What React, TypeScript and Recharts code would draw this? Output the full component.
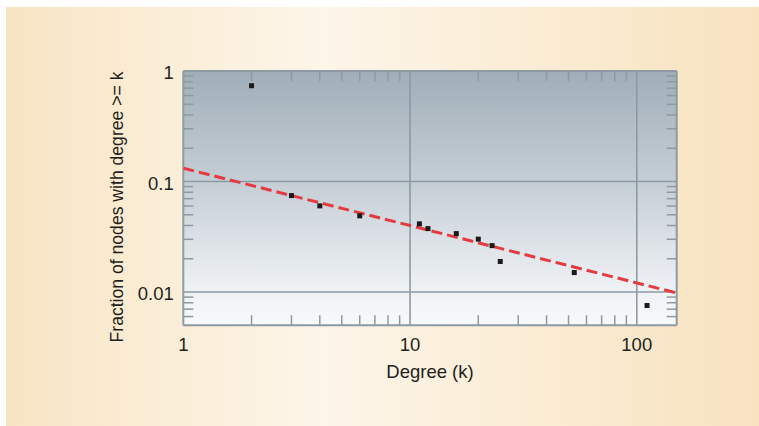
import React from 'react';
import { ScatterChart, Scatter, XAxis, YAxis, CartesianGrid, ReferenceLine } from 'recharts';

// ---- data ----
const degrees = [2, 3, 4, 6, 11, 12, 16, 20, 23, 25, 53, 111];
const fractions = [0.736, 0.0746, 0.0602, 0.0489, 0.0414, 0.0375, 0.0338, 0.0301, 0.0263, 0.0189, 0.015, 0.00755];
const fitX = [1, 150];
const fitY = [0.132, 0.0098];

const xMajorTicks = [1, 10, 100];
const xMinorTicks = [2, 3, 4, 5, 6, 7, 8, 9, 20, 30, 40, 50, 60, 70, 80, 90];
const yMajorTicks = [0.01, 0.1, 1];
const yMinorTicks = [0.006, 0.007, 0.008, 0.009, 0.02, 0.03, 0.04, 0.05, 0.06, 0.07, 0.08, 0.09, 0.2, 0.3, 0.4, 0.5, 0.6, 0.7, 0.8, 0.9];
const xGridValues = [10, 100];
const yGridValues = [0.1, 0.01];

const xDomain = [1, 150];
const yDomain = [0.005, 1];

const points = degrees.map((d, i) => ({ k: d, f: fractions[i] }));
const fitLine = fitX.map((x, i) => ({ k: x, f: fitY[i] }));

const FONT = '"Liberation Sans", Arial, sans-serif';
const TEXT = '#231f20';
const AXIS = '#8d9aa3';
const TICK_LEN = 10;

const allXTicks = [...xMajorTicks, ...xMinorTicks];
const allYTicks = [...yMajorTicks, ...yMinorTicks];

const BottomTick = (props: any) => {
  const { x, y, payload } = props;
  const v = payload.value;
  if (xMajorTicks.includes(v)) {
    return (
      <text x={x} y={y + 25.4} textAnchor="middle" fontFamily={FONT} fontSize={18.5} fill={TEXT}>
        {String(v)}
      </text>
    );
  }
  return <line x1={x} x2={x} y1={y} y2={y - TICK_LEN} stroke={AXIS} strokeWidth={1.5} />;
};

const TopTick = (props: any) => {
  const { x, y, payload } = props;
  if (xMajorTicks.includes(payload.value)) return <g />;
  return <line x1={x} x2={x} y1={y} y2={y + TICK_LEN} stroke={AXIS} strokeWidth={1.5} />;
};

const LeftTick = (props: any) => {
  const { x, y, payload } = props;
  const v = payload.value;
  if (yMajorTicks.includes(v)) {
    return (
      <text x={x - 9.5} y={y + 8.3} textAnchor="end" fontFamily={FONT} fontSize={18.5} fill={TEXT}>
        {String(v)}
      </text>
    );
  }
  return <line x1={x} x2={x + TICK_LEN} y1={y} y2={y} stroke={AXIS} strokeWidth={1.5} />;
};

const RightTick = (props: any) => {
  const { x, y, payload } = props;
  if (yMajorTicks.includes(payload.value)) return <g />;
  return <line x1={x} x2={x - TICK_LEN} y1={y} y2={y} stroke={AXIS} strokeWidth={1.5} />;
};

const SquareMarker = (props: any) => {
  const { cx, cy } = props;
  if (cx == null || cy == null) return <g />;
  return <rect x={cx - 2.5} y={cy - 2.5} width={5} height={5} fill="#1b1b1b" />;
};

const NoMarker = () => <g />;

const XTitle = () => (
  <text x={430} y={377.5} textAnchor="middle" fontFamily={FONT} fontSize={18.5} fill={TEXT}>
    Degree (k)
  </text>
);

const YTitle = () => (
  <text
    x={123}
    y={207}
    transform="rotate(-90 123 207)"
    textAnchor="middle"
    fontFamily={FONT}
    fontSize={17.6}
    fill={TEXT}
  >
    Fraction of nodes with degree &gt;= k
  </text>
);

export default function App() {
  return (
    <div style={{ position: 'absolute', left: 0, top: 0, width: 759, height: 426, background: '#ffffff', overflow: 'hidden' }}>
      <div
        style={{
          position: 'absolute',
          left: 6,
          top: 7,
          right: 0,
          bottom: 0,
          background: 'linear-gradient(to right, #f8e4c3 0%, #fbefda 25%, #fdf5e9 42%, #fbeed8 65%, #f9e7c9 85%, #f8e3c1 100%)',
        }}
      />
      <div style={{ position: 'absolute', left: 0, top: 0 }}>
        <ScatterChart width={759} height={426} margin={{ top: 61, right: 72.3, bottom: 40.7, left: 123.3 }}>
          <defs>
            <linearGradient id="plotBg" x1="0" y1="0" x2="0" y2="1">
              <stop offset="0%" stopColor="#a1aeb8" />
              <stop offset="45%" stopColor="#c6cfd6" />
              <stop offset="85%" stopColor="#eef1f4" />
              <stop offset="100%" stopColor="#f8f9fb" />
            </linearGradient>
          </defs>
          <CartesianGrid
            xAxisId="b"
            yAxisId="l"
            horizontal={false}
            vertical={false}
            fill="url(#plotBg)"
            fillOpacity={1}
            stroke="none"
          />
          <XAxis
            xAxisId="b"
            dataKey="k"
            type="number"
            scale="log"
            domain={xDomain}
            allowDataOverflow
            ticks={allXTicks}
            interval={0}
            tickSize={0}
            tickMargin={0}
            tickLine={false}
            tick={<BottomTick />}
            axisLine={{ stroke: AXIS, strokeWidth: 2 }}
            height={60}
            label={<XTitle />}
          />
          <XAxis
            xAxisId="t"
            dataKey="k"
            orientation="top"
            type="number"
            scale="log"
            domain={xDomain}
            allowDataOverflow
            ticks={allXTicks}
            interval={0}
            tickSize={0}
            tickMargin={0}
            tickLine={false}
            tick={<TopTick />}
            axisLine={{ stroke: AXIS, strokeWidth: 2 }}
            height={10}
          />
          <YAxis
            yAxisId="l"
            dataKey="f"
            type="number"
            scale="log"
            domain={yDomain}
            allowDataOverflow
            ticks={allYTicks}
            interval={0}
            tickSize={0}
            tickMargin={0}
            tickLine={false}
            tick={<LeftTick />}
            axisLine={{ stroke: AXIS, strokeWidth: 2 }}
            width={60}
            label={<YTitle />}
          />
          <YAxis
            yAxisId="r"
            dataKey="f"
            orientation="right"
            type="number"
            scale="log"
            domain={yDomain}
            allowDataOverflow
            ticks={allYTicks}
            interval={0}
            tickSize={0}
            tickMargin={0}
            tickLine={false}
            tick={<RightTick />}
            axisLine={{ stroke: AXIS, strokeWidth: 2 }}
            width={10}
          />
          {xGridValues.map((v) => (
            <ReferenceLine key={'x' + v} xAxisId="b" yAxisId="l" x={v} stroke={AXIS} strokeWidth={1.6} />
          ))}
          {yGridValues.map((v) => (
            <ReferenceLine key={'y' + v} xAxisId="b" yAxisId="l" y={v} stroke={AXIS} strokeWidth={1.6} />
          ))}
          <Scatter
            xAxisId="t"
            yAxisId="r"
            data={fitLine}
            line={{ stroke: '#e53a3f', strokeWidth: 3, strokeDasharray: '11 5' }}
            shape={<NoMarker />}
            isAnimationActive={false}
          />
          <Scatter
            xAxisId="b"
            yAxisId="l"
            data={points}
            shape={<SquareMarker />}
            isAnimationActive={false}
          />
        </ScatterChart>
      </div>
    </div>
  );
}
